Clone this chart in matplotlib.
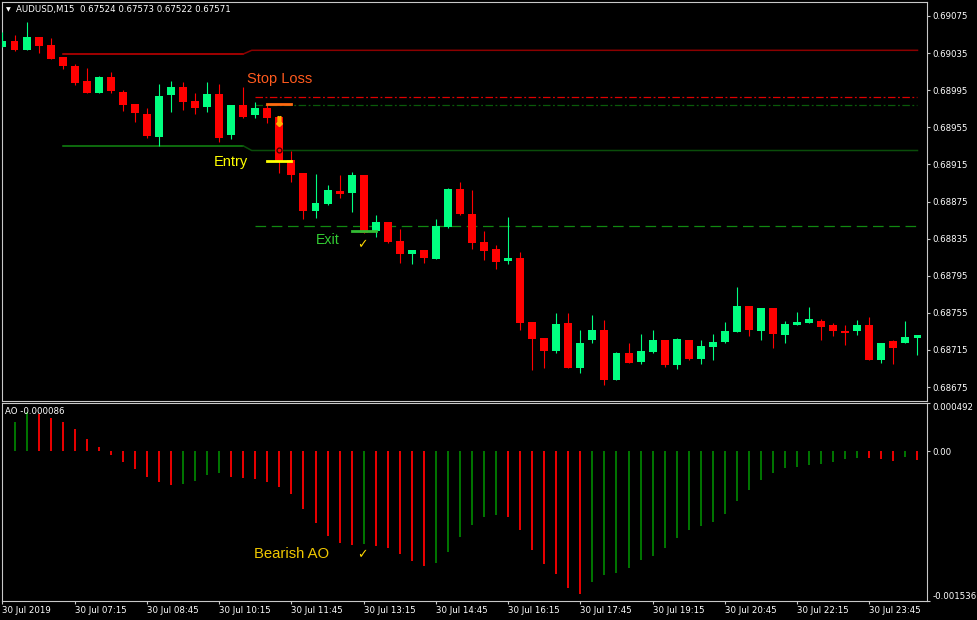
import numpy as np
import matplotlib.pyplot as plt

# velas AUDUSD M15
opens = [0.69042, 0.69048, 0.69038, 0.69052, 0.69044, 0.69031, 0.69021, 0.69005, 0.68992, 0.69009,
         0.68993, 0.68980, 0.68969, 0.68945, 0.68990, 0.68998, 0.68983, 0.68977, 0.68991, 0.68947,
         0.68979, 0.68968, 0.68976, 0.68966, 0.68920, 0.68906, 0.68865, 0.68872, 0.68886, 0.68884,
         0.68904, 0.68843, 0.68853, 0.68832, 0.68818, 0.68823, 0.68813, 0.68847, 0.68889, 0.68862,
         0.68831, 0.68824, 0.68811, 0.68814, 0.68745, 0.68728, 0.68714, 0.68744, 0.68695, 0.68726,
         0.68737, 0.68683, 0.68712, 0.68702, 0.68713, 0.68726, 0.68699, 0.68726, 0.68705, 0.68718,
         0.68724, 0.68734, 0.68762, 0.68735, 0.68760, 0.68731, 0.68742, 0.68744, 0.68746, 0.68742,
         0.68735, 0.68735, 0.68742, 0.68704, 0.68725, 0.68723, 0.68728]
highs = [0.69058, 0.69055, 0.69068, 0.69052, 0.69051, 0.69031, 0.69023, 0.69019, 0.69010, 0.69015,
         0.68995, 0.68980, 0.68976, 0.69002, 0.69005, 0.69004, 0.68992, 0.69004, 0.69002, 0.68979,
         0.68998, 0.68982, 0.68980, 0.68966, 0.68929, 0.68906, 0.68905, 0.68893, 0.68904, 0.68907,
         0.68904, 0.68860, 0.68853, 0.68845, 0.68823, 0.68823, 0.68856, 0.68890, 0.68896, 0.68887,
         0.68843, 0.68828, 0.68858, 0.68821, 0.68745, 0.68728, 0.68755, 0.68755, 0.68736, 0.68753,
         0.68747, 0.68713, 0.68723, 0.68732, 0.68737, 0.68726, 0.68728, 0.68726, 0.68726, 0.68732,
         0.68745, 0.68783, 0.68762, 0.68760, 0.68760, 0.68746, 0.68756, 0.68761, 0.68748, 0.68744,
         0.68742, 0.68747, 0.68751, 0.68722, 0.68726, 0.68746, 0.68731]
lows = [0.69042, 0.69037, 0.69038, 0.69035, 0.69029, 0.69018, 0.69001, 0.68992, 0.68992, 0.68992,
        0.68973, 0.68961, 0.68944, 0.68935, 0.68971, 0.68974, 0.68969, 0.68971, 0.68939, 0.68942,
        0.68965, 0.68965, 0.68960, 0.68906, 0.68896, 0.68856, 0.68857, 0.68871, 0.68879, 0.68864,
        0.68841, 0.68837, 0.68830, 0.68809, 0.68808, 0.68809, 0.68813, 0.68846, 0.68860, 0.68824,
        0.68812, 0.68802, 0.68808, 0.68737, 0.68693, 0.68695, 0.68712, 0.68695, 0.68690, 0.68723,
        0.68677, 0.68683, 0.68701, 0.68700, 0.68712, 0.68697, 0.68694, 0.68704, 0.68700, 0.68704,
        0.68723, 0.68734, 0.68730, 0.68726, 0.68717, 0.68723, 0.68742, 0.68744, 0.68726, 0.68730,
        0.68720, 0.68731, 0.68704, 0.68701, 0.68700, 0.68723, 0.68710]
closes = [0.69048, 0.69038, 0.69052, 0.69043, 0.69029, 0.69021, 0.69003, 0.68992, 0.69009, 0.68994,
          0.68979, 0.68970, 0.68946, 0.68989, 0.68998, 0.68982, 0.68976, 0.68991, 0.68944, 0.68979,
          0.68966, 0.68976, 0.68965, 0.68919, 0.68904, 0.68865, 0.68873, 0.68887, 0.68883, 0.68904,
          0.68841, 0.68853, 0.68831, 0.68818, 0.68823, 0.68814, 0.68849, 0.68889, 0.68862, 0.68830,
          0.68822, 0.68810, 0.68814, 0.68744, 0.68727, 0.68714, 0.68743, 0.68695, 0.68722, 0.68737,
          0.68683, 0.68712, 0.68701, 0.68714, 0.68726, 0.68699, 0.68727, 0.68705, 0.68719, 0.68724,
          0.68735, 0.68762, 0.68737, 0.68760, 0.68732, 0.68743, 0.68745, 0.68748, 0.68740, 0.68735,
          0.68733, 0.68742, 0.68704, 0.68722, 0.68717, 0.68729, 0.68731]

# Awesome Oscillator
ao = [0.000179, 0.000300, 0.000404, 0.000386, 0.000345, 0.000300, 0.000231, 0.000127, 0.000048, -0.000038,
      -0.000114, -0.000183, -0.000263, -0.000315, -0.000349, -0.000331, -0.000304, -0.000245, -0.000225, -0.000263,
      -0.000276, -0.000280, -0.000311, -0.000366, -0.000442, -0.000597, -0.000735, -0.000873, -0.000936, -0.000960,
      -0.000955, -0.000967, -0.000994, -0.001056, -0.001122, -0.001174, -0.001143, -0.001029, -0.000884, -0.000752,
      -0.000673, -0.000649, -0.000673, -0.000804, -0.001011, -0.001159, -0.001260, -0.001402, -0.001464, -0.001340,
      -0.001266, -0.001246, -0.001201, -0.001115, -0.001070, -0.000994, -0.000890, -0.000811, -0.000766, -0.000729,
      -0.000639, -0.000511, -0.000397, -0.000294, -0.000221, -0.000176, -0.000166, -0.000139, -0.000131, -0.000108,
      -0.000083, -0.000069, -0.000072, -0.000080, -0.000097, -0.000062, -0.000086]

price_ticks = [0.69075, 0.69035, 0.68995, 0.68955, 0.68915, 0.68875, 0.68835,
               0.68795, 0.68755, 0.68715, 0.68675]
ao_ticks = [0.000492, 0.0, -0.001536]
ao_tick_labels = ['0.000492', '0.00', '-0.001536']
time_ticks = [0, 6, 12, 18, 24, 30, 36, 42, 48, 54, 60, 66, 72]
time_labels = ['30 Jul 2019', '30 Jul 07:15', '30 Jul 08:45', '30 Jul 10:15', '30 Jul 11:45',
               '30 Jul 13:15', '30 Jul 14:45', '30 Jul 16:15', '30 Jul 17:45', '30 Jul 19:15',
               '30 Jul 20:45', '30 Jul 22:15', '30 Jul 23:45']

# niveles de la estrategia
band_x = [5, 20, 20.7, 76]
upper_band = [0.69034, 0.69034, 0.69038, 0.69038]
lower_band = [0.68935, 0.68935, 0.68930, 0.68930]
level_x = [21, 76]
sl_red = 0.68988
sl_green = 0.68979
exit_level = 0.68849
sl_mark = 0.68980
entry_mark = 0.68919
exit_mark = 0.68843

BULL = '#00ff80'
BEAR = '#ff0000'
GRID = '#c8c8c8'

fig = plt.figure(figsize=(9.77, 6.2), dpi=100, facecolor='black')
ax1 = fig.add_axes([2/977, 1 - 400.5/620, 925/977, 398.8/620])
ax2 = fig.add_axes([2/977, 1 - 601/620, 925/977, 197.7/620])

x = np.arange(len(opens))
o = np.array(opens); c = np.array(closes)
cols = [BULL if cc >= oo else BEAR for oo, cc in zip(o, c)]

for ax in (ax1, ax2):
    ax.set_facecolor('black')
    for s in ax.spines.values():
        s.set_color(GRID)
        s.set_linewidth(0.8)
    ax.set_xlim(-0.04, 76.79)

# velas
ax1.vlines(x, lows, highs, colors=cols, lw=0.8, zorder=3)
ax1.bar(x, np.maximum(np.abs(c - o), 0.000012), bottom=np.minimum(o, c), width=0.66,
        color=cols, linewidth=0, zorder=4)

# bandas y niveles
ax1.plot(band_x[:2], upper_band[:2], color='#cc0000', lw=1.1, zorder=2)
ax1.plot(band_x[1:], upper_band[1:], color='#8b0000', lw=1.1, zorder=2)
ax1.plot(band_x[:2], lower_band[:2], color='#118811', lw=1.1, zorder=2)
ax1.plot(band_x[1:], lower_band[1:], color='#0a4d0a', lw=1.1, zorder=2)
ax1.plot(level_x, [sl_red]*2, color='#dd0000', lw=0.9, ls=(0, (6, 2, 1.5, 2)), zorder=2)
ax1.plot(level_x, [sl_green]*2, color='#0a5a0a', lw=0.9, ls=(0, (6, 2, 1.5, 2)), zorder=2)
ax1.plot(level_x, [exit_level]*2, color='#118811', lw=0.9, ls=(0, (8.5, 4.5)), zorder=2)

ax1.plot([22, 24], [sl_mark]*2, color='#ff6a10', lw=2, zorder=5)
ax1.plot([22, 24], [entry_mark]*2, color='#ffff00', lw=2, zorder=5)
ax1.plot([29, 31], [exit_mark]*2, color='#33bb33', lw=2, zorder=5)
ax1.plot(23, 0.68962, marker=r'$\Downarrow$', ms=7, color='#ffb000', mec='#ffb000', zorder=6)
ax1.plot(23, 0.68930, 'o', ms=3.5, mfc='none', mec='#300000', mew=0.9, zorder=6)

ax1.text(20.3, 0.69007, 'Stop Loss', color='#ff5a1e', fontsize=10.5, family='Liberation Sans', va='center')
ax1.text(17.57, 0.68918, 'Entry', color='#ffff00', fontsize=10.5, family='Liberation Sans', va='center')
ax1.text(26.05, 0.68834, 'Exit', color='#33cc33', fontsize=10.2, family='Liberation Sans', va='center')
ax1.text(29.9, 0.68829, '✓', color='#ffd700', fontsize=9, ha='center', va='center')

ax1.set_ylim(0.686605, 0.690904)
ax1.yaxis.tick_right()
ax1.set_yticks(price_ticks)
ax1.set_yticklabels([f'{p:.5f}' for p in price_ticks])
ax1.set_xticks([])
ax1.tick_params(axis='y', colors=GRID, labelcolor='white', labelsize=6.2, length=2.5, width=0.8, pad=1.5)

ax1.text(0.007, 0.98, '▼', transform=ax1.transAxes, color='white', fontsize=4.5, ha='center', va='center')
ax1.text(0.0151, 0.98, 'AUDUSD,M15  0.67524 0.67573 0.67522 0.67571', transform=ax1.transAxes,
         color='white', fontsize=6.2, va='center')

# AO
ao_arr = np.array(ao)
ao_cols = ['#008000'] + ['#008000' if ao_arr[i] > ao_arr[i-1] else '#ff0000' for i in range(1, len(ao))]
ax2.vlines(x, 0, ao_arr, colors=ao_cols, lw=1.3)
ax2.set_ylim(-0.001536, 0.000492)
ax2.yaxis.tick_right()
ax2.set_yticks(ao_ticks)
ax2.set_yticklabels(ao_tick_labels)
ax2.tick_params(axis='y', colors=GRID, labelcolor='white', labelsize=6.2, length=2.5, width=0.8, pad=1.5)
ylabs = ax2.get_yticklabels()
ylabs[0].set_va('top')
ylabs[2].set_va('bottom')
ax2.set_xticks(time_ticks)
ax2.set_xticklabels(time_labels)
ax2.tick_params(axis='x', colors=GRID, labelcolor='white', labelsize=6.2, length=2.5, width=0.8, pad=1)
for lab in ax2.get_xticklabels():
    lab.set_ha('left')

ax2.text(0.0032, 0.961, 'AO -0.000086', transform=ax2.transAxes, color='white', fontsize=6.2, va='center')
ax2.text(20.9, -0.001053, 'Bearish AO', color='#f0c800', fontsize=10.7, family='Liberation Sans', va='center')
ax2.text(29.9, -0.001058, '✓', color='#ffd700', fontsize=9, ha='center', va='center')

fig.savefig('out.png', dpi=100, facecolor='black')
